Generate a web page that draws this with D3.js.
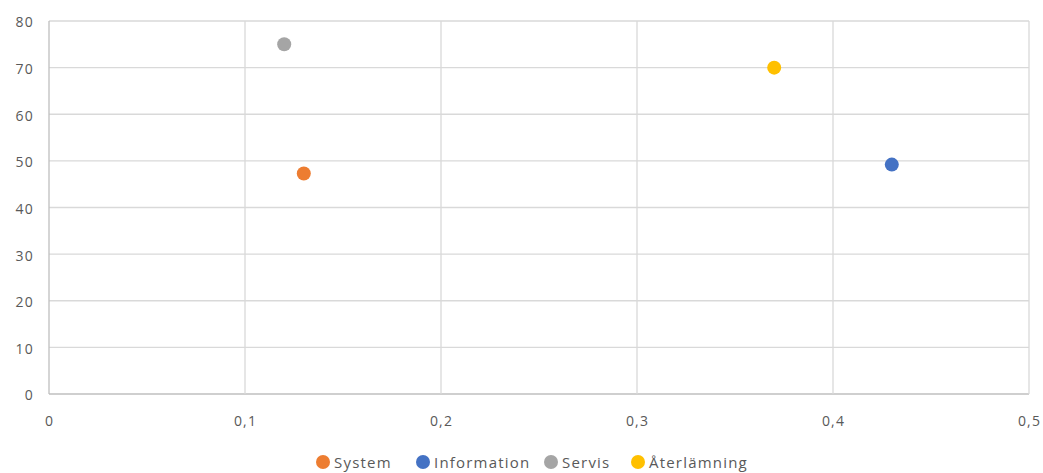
<!DOCTYPE html>
<html>
<head>
<meta charset="utf-8">
<script src="https://cdn.jsdelivr.net/npm/d3@7"></script>
<style>
  body { margin: 0; background: #fff; }
  text { font-family: "Open Sans", "Liberation Sans", sans-serif; fill: #595959; font-size: 14px; letter-spacing: 1.2px; }
</style>
</head>
<body>
<svg id="chart" width="1043" height="473"></svg>
<script>
// Series names and their single (x, y) observation
const seriesNames = ["System", "Information", "Servis", "Återlämning"];
const xValues = [0.13, 0.43, 0.12, 0.37];
const yValues = [47.3, 49.2, 75, 70];
const seriesColors = ["#ED7D31", "#4472C4", "#A5A5A5", "#FFC000"];
const xTicks = [0, 0.1, 0.2, 0.3, 0.4, 0.5];
const yTicks = [0, 10, 20, 30, 40, 50, 60, 70, 80];

const svg = d3.select("#chart");
const margin = { left: 49, right: 14, top: 21, bottom: 79 };
const W = 1043, H = 473;

const x = d3.scaleLinear().domain([0, 0.5]).range([margin.left, W - margin.right]);
const y = d3.scaleLinear().domain([0, 80]).range([H - margin.bottom, margin.top]);

const fmt = d => d === 0 ? "0" : String(d).replace(".", ",");

// Grid lines
const grid = svg.append("g");
grid.selectAll(".hg").data(yTicks).join("line")
  .attr("x1", x(0)).attr("x2", x(0.5))
  .attr("y1", d => y(d)).attr("y2", d => y(d))
  .attr("stroke", d => d === 0 ? "#bfbfbf" : "#d9d9d9").attr("stroke-width", 1.3);
grid.selectAll(".vg").data(xTicks).join("line")
  .attr("y1", y(0)).attr("y2", y(80))
  .attr("x1", d => x(d)).attr("x2", d => x(d))
  .attr("stroke", d => d === 0 ? "#bfbfbf" : "#d9d9d9").attr("stroke-width", 1.3);

// Axis labels
const yAxis = d3.axisLeft(y).tickValues(yTicks).tickFormat(fmt).tickSize(0).tickPadding(15);
svg.append("g").attr("transform", `translate(${x(0)},1.5)`).call(yAxis)
  .call(g => g.select(".domain").remove())
  .selectAll("text").style("font-size", "14px").attr("fill", "#595959");

const xAxis = d3.axisBottom(x).tickValues(xTicks).tickFormat(fmt).tickSize(0).tickPadding(22);
svg.append("g").attr("transform", `translate(0,${y(0)})`).call(xAxis)
  .call(g => g.select(".domain").remove())
  .selectAll("text").style("font-size", "14px").attr("fill", "#595959");

// Points
svg.append("g").selectAll("circle").data(seriesNames).join("circle")
  .attr("cx", (d, i) => x(xValues[i]))
  .attr("cy", (d, i) => y(yValues[i]))
  .attr("r", 7)
  .attr("fill", (d, i) => seriesColors[i]);

// Legend
const legend = svg.append("g");
const legendX = [323, 423, 551, 638];
seriesNames.forEach((name, i) => {
  const g = legend.append("g").attr("transform", `translate(${legendX[i]},462)`);
  g.append("circle").attr("r", 7).attr("fill", seriesColors[i]);
  g.append("text").attr("x", 11).attr("dy", "0.38em").style("font-size", "15px").text(name);
});
</script>
</body>
</html>
